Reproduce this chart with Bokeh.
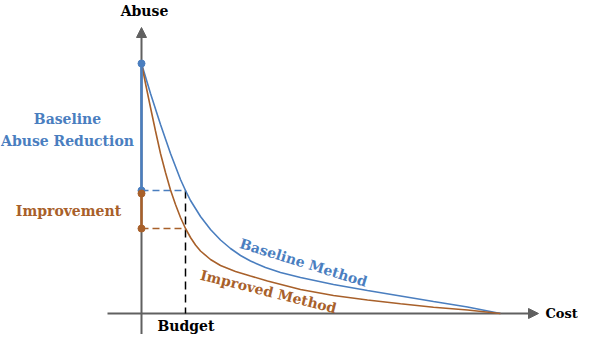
from bokeh.plotting import figure
from bokeh.models import ColumnDataSource, Arrow, NormalHead
from bokeh.core.properties import value
from bokeh.embed import file_html
from bokeh.resources import INLINE

# ---- data (arbitrary cost / abuse units) ----
baseline_cost = [0, 9, 19, 29, 39, 44, 49, 59, 69, 79, 89, 99, 109, 124, 139, 159, 192, 226, 259, 292, 326, 359]
baseline_abuse = [250, 220, 189, 160, 134, 123, 113, 97, 84, 73.5, 65, 58, 52.5, 46, 41, 36, 29, 23, 17.5, 12, 6.5, 0]

improved_cost = [0, 4, 9, 14, 19, 24, 29, 34, 39, 44, 49, 54, 59, 69, 79, 94, 109, 126, 159, 192, 226, 259, 292, 326, 359]
improved_abuse = [250, 230, 206, 182.5, 160, 141, 123.5, 109, 96, 85, 76, 68.5, 62.5, 54, 48, 42, 37.5, 32.5, 24, 18, 13.5, 9.7, 6.3, 3.5, 0]

budget = 44
start_abuse = 250
baseline_at_budget = 123
improved_at_budget = 85
improvement_top = 120

BLUE = "#4A7EBF"
BROWN = "#A8602A"
GRAY = "#606060"
FONT = value("DejaVu Serif")

p = figure(width=578, height=334, output_backend="svg", toolbar_location=None,
           x_range=(-141, 437), y_range=(-21, 313),
           x_axis_type=None, y_axis_type=None, min_border=0)
p.grid.visible = False
p.outline_line_color = None
p.background_fill_color = "white"

# axes with arrows (drawn beneath the data)
p.add_layout(Arrow(end=NormalHead(size=10, fill_color=GRAY, line_color=GRAY),
                   x_start=-34, y_start=0, x_end=397, y_end=0,
                   line_color=GRAY, line_width=2, level="underlay"))
p.add_layout(Arrow(end=NormalHead(size=10, fill_color=GRAY, line_color=GRAY),
                   x_start=0, y_start=-40, x_end=0, y_end=286,
                   line_color=GRAY, line_width=2, level="underlay"))

# dashed guides
p.line([0, budget], [baseline_at_budget, baseline_at_budget], line_color=BLUE, line_width=1.5, line_dash="7 4")
p.line([0, budget], [improved_at_budget, improved_at_budget], line_color=BROWN, line_width=1.5, line_dash="7 4")
p.line([budget, budget], [baseline_at_budget, 0], line_color="black", line_width=1.5, line_dash="8 5")

# curves
p.line(baseline_cost, baseline_abuse, line_color=BLUE, line_width=1.6)
p.line(improved_cost, improved_abuse, line_color=BROWN, line_width=1.6)

# vertical segments on the y axis
p.line([0, 0], [start_abuse, baseline_at_budget], line_color=BLUE, line_width=2.5)
p.line([0, 0], [improvement_top, improved_at_budget], line_color=BROWN, line_width=2.5)
p.scatter([0, 0], [start_abuse, baseline_at_budget], size=7, fill_color=BLUE, line_color=BLUE)
p.scatter([0, 0], [improvement_top, improved_at_budget], size=7, fill_color=BROWN, line_color=BROWN)

# texts
def txt(x, y, s, color, align="center", baseline="middle", angle=0.0, size="14px"):
    src = ColumnDataSource(dict(x=[x], y=[y], t=[s]))
    p.text("x", "y", text="t", source=src, text_color=color, text_align=align,
           text_baseline=baseline, angle=angle, text_font=FONT,
           text_font_style="bold", text_font_size=size)

txt(3, 303, "Abuse", "black", baseline="alphabetic")
txt(404, 0.5, "Cost", "black", align="left", size="13px")
txt(44.5, -20, "Budget", "black", baseline="bottom")
txt(-74, 195, "Baseline", BLUE)
txt(-74, 173, "Abuse Reduction", BLUE)
txt(-73, 103, "Improvement", BROWN)
txt(162, 51, "Baseline Method", BLUE, angle=-0.30)
txt(127, 22, "Improved Method", BROWN, angle=-0.245)

open("out.html", "w").write(file_html(p, INLINE))
